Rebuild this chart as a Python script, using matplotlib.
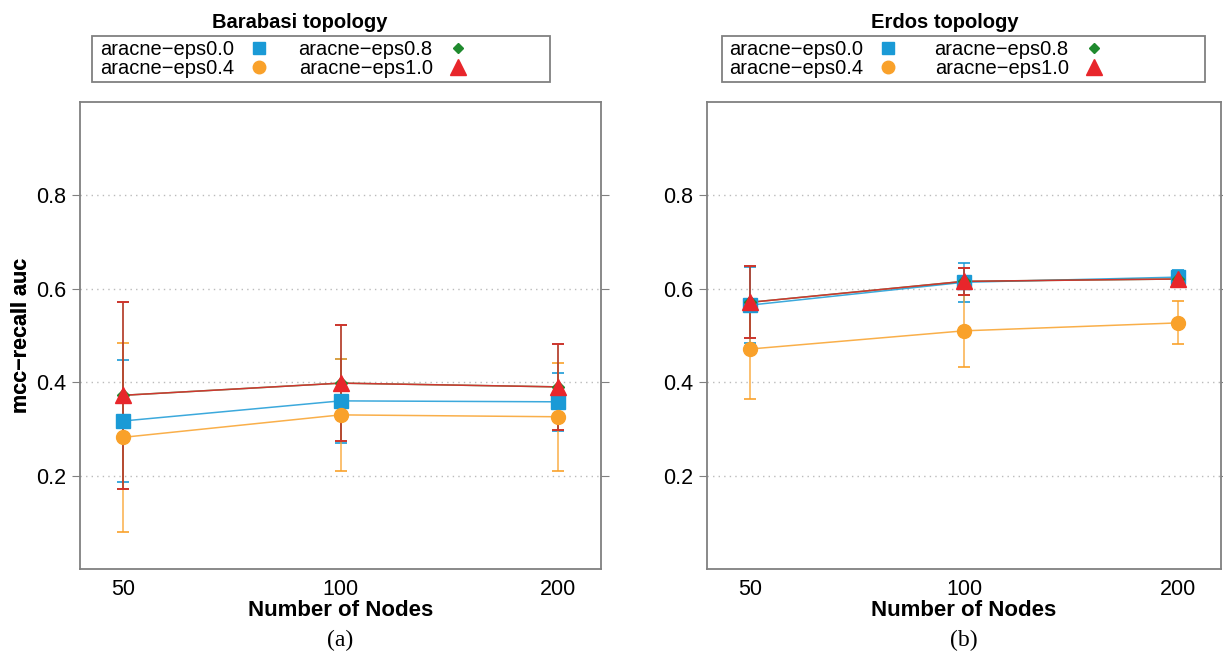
import numpy as np
import matplotlib
matplotlib.use("Agg")
import matplotlib.pyplot as plt
from matplotlib.lines import Line2D
from matplotlib.patches import Rectangle

plt.rcParams['font.family'] = ['Liberation Sans', 'DejaVu Sans']

nodes = ["50", "100", "200"]
methods = ["aracne\u2212eps0.0", "aracne\u2212eps0.4", "aracne\u2212eps0.8", "aracne\u2212eps1.0"]

# Barabasi topology: mean and sd per node count
bar_eps00 = [0.317, 0.360, 0.358]
bar_eps00_sd = [0.130, 0.090, 0.062]
bar_eps04 = [0.282, 0.330, 0.326]
bar_eps04_sd = [0.202, 0.120, 0.116]
bar_eps08 = [0.372, 0.398, 0.390]
bar_eps08_sd = [0.200, 0.124, 0.092]
bar_eps10 = [0.372, 0.398, 0.390]
bar_eps10_sd = [0.200, 0.124, 0.092]

# Erdos topology
erd_eps00 = [0.565, 0.614, 0.625]
erd_eps00_sd = [0.082, 0.042, 0.015]
erd_eps04 = [0.471, 0.510, 0.527]
erd_eps04_sd = [0.106, 0.077, 0.046]
erd_eps08 = [0.571, 0.616, 0.621]
erd_eps08_sd = [0.077, 0.029, 0.016]
erd_eps10 = [0.571, 0.616, 0.621]
erd_eps10_sd = [0.077, 0.029, 0.016]

colors = ["#1a9ad6", "#f9a12a", "#1f8a2e", "#e8262b"]
markers = ["s", "o", "D", "^"]
msizes = [10, 10, 6, 12]
draw_order = [1, 0, 2, 3]

fig = plt.figure(figsize=(12.23, 6.57), dpi=100)
W, H = 1223, 657


def panel(px, means, sds, title, tag, title_x, text_x, colsp, box):
    x0, x1 = px
    ax = fig.add_axes([x0 / W, 88 / H, (x1 - x0) / W, 467 / H])
    aw = x1 - x0
    fy = lambda y: (569 - y) / 467
    fx = lambda xp: (xp - x0) / aw
    x = np.arange(len(nodes))
    for i in draw_order:
        ax.errorbar(x, means[i], yerr=sds[i], color=colors[i], lw=1.1,
                    elinewidth=1.1, capsize=4.5, capthick=1.4, alpha=0.85,
                    zorder=2 + i)
        ax.plot(x, means[i], linestyle="none", marker=markers[i],
                ms=msizes[i], color=colors[i], mec=colors[i], zorder=6 + i)
    ax.set_xlim(-0.2, 2.2)
    ax.set_ylim(0, 1.0)
    ax.set_yticks([0.2, 0.4, 0.6, 0.8])
    ax.set_xticks(x)
    ax.set_xticklabels(nodes)
    ax.yaxis.grid(True, linestyle=(0, (1, 3)), color="#bbbbbb", lw=1)
    ax.set_axisbelow(True)
    for s in ax.spines.values():
        s.set_color("#808080")
        s.set_linewidth(1.3)
    ax.tick_params(axis="y", labelsize=15.5, length=6, color="#808080",
                   right=True, direction="out", pad=4)
    ax.tick_params(axis="x", labelsize=15.5, length=0, pad=7)
    ax.set_xlabel("Number of Nodes", fontsize=16, fontweight="bold", va="center")
    ax.xaxis.set_label_coords(0.5, fy(611))
    ax.set_ylabel("mcc\u2212recall auc", fontsize=15.5, fontweight="bold", va="center")
    ax.yaxis.set_label_coords(fx(22), 0.5)
    ax.text(fx(title_x), fy(23), title, transform=ax.transAxes, ha="center",
            va="center", fontsize=14.5, fontweight="bold")
    handles = [Line2D([], [], linestyle="none", marker=markers[i],
                      ms=msizes[i] - 1, color=colors[i]) for i in range(4)]
    ax.legend(handles, methods, ncol=2, loc="center left",
              bbox_to_anchor=(fx(text_x), fy(59)),
              markerfirst=False, fontsize=14.5, frameon=False,
              borderpad=0, labelspacing=0.0, handlelength=1.0,
              handletextpad=0.75, columnspacing=colsp, borderaxespad=0)
    bx0, bx1 = box
    ax.add_patch(Rectangle((fx(bx0), fy(82)), (bx1 - bx0) / aw, 46 / 467,
                           transform=ax.transAxes, fill=False,
                           edgecolor="#808080", lw=1.3, clip_on=False))
    ax.text(0.5, fy(640), tag, transform=ax.transAxes, ha="center",
            va="center", fontsize=17, family="Liberation Serif")
    return ax


panel((80, 601),
      [bar_eps00, bar_eps04, bar_eps08, bar_eps10],
      [bar_eps00_sd, bar_eps04_sd, bar_eps08_sd, bar_eps10_sd],
      "Barabasi topology", "(a)", 300, 100, 1.45, (92, 550))
panel((707, 1221),
      [erd_eps00, erd_eps04, erd_eps08, erd_eps10],
      [erd_eps00_sd, erd_eps04_sd, erd_eps08_sd, erd_eps10_sd],
      "Erdos topology", "(b)", 945, 729, 1.8, (722, 1205))

fig.savefig("out.png", dpi=100)
